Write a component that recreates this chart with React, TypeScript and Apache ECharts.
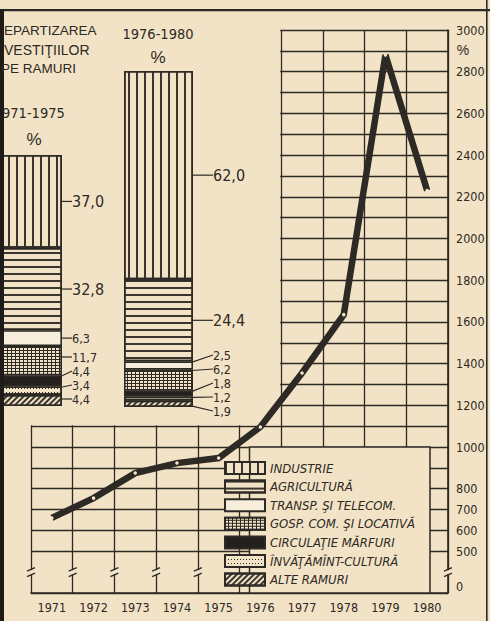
import React, { useEffect, useRef } from 'react';
import * as echarts from 'echarts';

// ---------- data ----------
const years = ['1971', '1972', '1973', '1974', '1975', '1976', '1977', '1978', '1979', '1980'];
const growthIndex = [660, 755, 875, 923, 947, 1096, 1355, 1635, 2880, 2230];
const yTickLabels = [0, 500, 600, 700, 800, 1000, 1200, 1400, 1600, 1800, 2000, 2200, 2400, 2600, 2800, 3000];
const AXIS_FLOOR = 300; // broken axis: the floor of the drawn scale stands for 0
const AXIS_TOP = 3000;

const branches = [
  'INDUSTRIE',
  'AGRICULTURĂ',
  'TRANSP. ŞI TELECOM.',
  'GOSP. COM. ŞI LOCATIVĂ',
  'CIRCULAŢIE MĂRFURI',
  'ÎNVĂŢĂMÎNT-CULTURĂ',
  'ALTE RAMURI',
];
const periods = ['1971-1975', '1976-1980'];
const share7175 = [37.0, 32.8, 6.3, 11.7, 4.4, 3.4, 4.4];
const share7680 = [62.0, 24.4, 2.5, 6.2, 1.8, 1.2, 1.9];

const titleLines = ['EPARTIZAREA', 'VESTIŢIILOR', 'PE RAMURI'];
const periodHeads = ['971-1975', '1976-1980'];

// ---------- styles ----------
const INK = '#2d2925';
const PAPER = '#f3e3c6';
const NARROW = "'Liberation Sans Narrow', 'DejaVu Sans Condensed', 'Liberation Sans', sans-serif";
const PLAIN = "'Liberation Sans', 'DejaVu Sans', sans-serif";

const dec = (o: any) => ({ symbol: 'rect', symbolSize: 1, symbolKeepAspect: false, ...o });
const branchLook: any[] = [
  { color: PAPER, decal: dec({ color: '#3b352f', dashArrayX: [2, 6], dashArrayY: [1, 0] }) },
  { color: PAPER, decal: dec({ color: '#3b352f', dashArrayX: [1, 0], dashArrayY: [2, 5] }) },
  { color: '#f7eddb', decal: null },
  { color: INK, decal: dec({ color: PAPER, dashArrayX: [3, 1], dashArrayY: [2, 1] }) },
  { color: '#24201d', decal: null },
  { color: PAPER, decal: dec({ color: INK, dashArrayX: [1, 2], dashArrayY: [1, 3] }) },
  { color: PAPER, decal: dec({ color: '#3b352f', dashArrayX: [1, 0], dashArrayY: [2, 2], rotation: -Math.PI / 4 }) },
];

const BAR_BOXES = [
  { left: -7, top: 155, width: 69, height: 251, gap: 10, lead: 8, maxY: 399 },
  { left: 124, top: 71, width: 69, height: 336, gap: 20, lead: 16, maxY: 411 },
];
const shares = [share7175, share7680];
const LABEL_GAP = 14;

function segMids(vals: number[], box: any) {
  let cum = 0;
  return vals.map((v) => {
    const m = box.top + ((cum + v / 2) / 100) * box.height;
    cum += v;
    return m;
  });
}
function spread(ys: number[], gap: number, maxY: number) {
  const out = ys.slice();
  for (let it = 0; it < 400; it++) {
    let moved = false;
    for (let i = 0; i < out.length - 1; i++) {
      const d = out[i + 1] - out[i];
      if (d < gap - 0.01) {
        const s = (gap - d) / 2;
        out[i] -= s;
        out[i + 1] += s;
        moved = true;
      }
    }
    if (!moved) break;
  }
  const n = out.length;
  out[n - 1] = Math.min(out[n - 1], maxY);
  for (let i = n - 2; i >= 0; i--) out[i] = Math.min(out[i], out[i + 1] - gap);
  return out;
}
const mids = shares.map((s, g) => segMids(s, BAR_BOXES[g]));
const labelYs = mids.map((m, g) => spread(m, LABEL_GAP, BAR_BOXES[g].maxY));

const fmt = (v: number) => v.toFixed(1).replace('.', ',');

function buildOption(): any {
  const barSeries: any[] = [];
  shares.forEach((vals, g) => {
    const box = BAR_BOXES[g];
    const right = box.left + box.width;
    vals.forEach((v, i) => {
      const big = i < 2;
      barSeries.push({
        type: 'bar',
        name: branches[i],
        xAxisIndex: g + 1,
        yAxisIndex: g + 1,
        stack: 'p' + g,
        barWidth: '100%',
        data: [v],
        silent: true,
        itemStyle: {
          color: branchLook[i].color,
          decal: branchLook[i].decal || undefined,
          borderColor: INK,
          borderWidth: 1.6,
        },
        label: {
          show: true,
          position: 'right',
          formatter: (p: any) => fmt(p.value),
          color: INK,
          fontFamily: NARROW,
          fontSize: big ? 16 : 12.5,
          lineHeight: big ? 16 : 13,
        },
        labelLine: { show: true, lineStyle: { color: INK, width: 1.2 } },
        labelLayout: () => ({
          x: right + box.gap,
          y: labelYs[g][i],
          align: 'left',
          verticalAlign: 'middle',
          labelLinePoints: [
            [right, mids[g][i]],
            [right + box.lead, labelYs[g][i]],
          ],
        }),
      });
    });
  });

  const ticksCount = (AXIS_TOP - AXIS_FLOOR) / 100 + 1;
  const splitColors = Array.from({ length: ticksCount }, (_, k) => (k === 1 ? 'rgba(0,0,0,0)' : INK));

  return {
    animation: false,
    backgroundColor: PAPER,
    grid: [
      { left: 31, right: 42, top: 30, bottom: 28 },
      { left: BAR_BOXES[0].left, top: BAR_BOXES[0].top, width: BAR_BOXES[0].width, height: BAR_BOXES[0].height },
      { left: BAR_BOXES[1].left, top: BAR_BOXES[1].top, width: BAR_BOXES[1].width, height: BAR_BOXES[1].height },
    ],
    xAxis: [
      {
        type: 'category',
        gridIndex: 0,
        data: years,
        boundaryGap: true,
        axisLine: { show: true, lineStyle: { color: INK, width: 1.6 } },
        axisTick: { show: false },
        axisLabel: { interval: 0, color: INK, fontFamily: NARROW, fontSize: 12.5, margin: 8 },
        splitLine: { show: true, interval: 0, lineStyle: { color: INK, width: 1.3 } },
      },
      { type: 'category', gridIndex: 1, data: [periods[0]], show: false },
      { type: 'category', gridIndex: 2, data: [periods[1]], show: false },
    ],
    yAxis: [
      {
        type: 'value',
        gridIndex: 0,
        position: 'right',
        min: AXIS_FLOOR,
        max: AXIS_TOP,
        interval: 100,
        axisLine: { show: true, lineStyle: { color: INK, width: 1.6 } },
        axisTick: { show: false },
        axisLabel: {
          color: INK,
          fontFamily: NARROW,
          fontSize: 12.5,
          margin: 8,
          showMinLabel: true,
          showMaxLabel: true,
          formatter: (v: number) => {
            if (v === AXIS_FLOOR) return '{z|' + yTickLabels[0] + '}';
            return yTickLabels.indexOf(v) > 0 ? String(v) : '';
          },
          rich: { z: { padding: [0, 0, 14, 0], fontFamily: NARROW, fontSize: 12.5, color: INK } },
        },
        splitLine: { show: true, lineStyle: { color: splitColors, width: 1.3 } },
      },
      { type: 'value', gridIndex: 1, min: 0, max: 100, inverse: true, show: false },
      { type: 'value', gridIndex: 2, min: 0, max: 100, inverse: true, show: false },
    ],
    legend: {
      data: branches,
      orient: 'vertical',
      left: 219,
      top: 456,
      itemWidth: 40,
      itemHeight: 12,
      itemGap: 4.6,
      icon: 'rect',
      selectedMode: false,
      z: 6,
      textStyle: { color: INK, fontStyle: 'italic', fontFamily: NARROW, fontSize: 13, lineHeight: 12 },
    },
    series: [
      {
        type: 'line',
        name: 'INVESTIŢII',
        xAxisIndex: 0,
        yAxisIndex: 0,
        data: growthIndex,
        z: 5,
        silent: true,
        lineStyle: { color: INK, width: 6.5, join: 'miter', cap: 'butt' },
        symbol: 'circle',
        symbolSize: 3.5,
        itemStyle: { color: PAPER, borderWidth: 0 },
      },
      ...barSeries,
    ],
  };
}

export default function App() {
  const ref = useRef<HTMLDivElement>(null);
  useEffect(() => {
    document.body.style.margin = '0';
    const chart = echarts.init(ref.current as HTMLDivElement, null, { renderer: 'svg' });
    chart.setOption(buildOption());

    const px = (v: string) => chart.convertToPixel({ xAxisIndex: 0 }, v) as number;
    const py = (v: number) => chart.convertToPixel({ yAxisIndex: 0 }, v) as number;
    const c0 = px(years[0]);
    const band = px(years[1]) - c0;
    const boundary = (k: number) => c0 - band / 2 + k * band;
    const yTop = py(AXIS_TOP);
    const y1100 = py(1100);
    const y1000 = py(1000);
    const yFloor = py(AXIS_FLOOR);
    const yBreak = py(400);
    const maskRight = boundary(6) - 1;
    const xRight = boundary(10);
    const boxLeft = boundary(5) + 10;

    const breaks: any[] = [];
    [0, 1, 2, 3, 4, 10].forEach((k) => {
      const x = boundary(k);
      breaks.push({ type: 'rect', z: 2, silent: true, shape: { x: x - 4, y: yBreak - 2, width: 8, height: 4 }, style: { fill: PAPER } });
      breaks.push({ type: 'line', z: 2, silent: true, shape: { x1: x - 4, y1: yBreak - 1, x2: x + 4, y2: yBreak - 4.5 }, style: { stroke: INK, lineWidth: 1.3 } });
      breaks.push({ type: 'line', z: 2, silent: true, shape: { x1: x - 4, y1: yBreak + 4.5, x2: x + 4, y2: yBreak + 1 }, style: { stroke: INK, lineWidth: 1.3 } });
    });

    const txt = (text: string, x: number, y: number, size: number, align: string, font = PLAIN) => ({
      type: 'text',
      z: 10,
      silent: true,
      x,
      y,
      style: { text, fill: INK, fontSize: size, fontFamily: font, align, verticalAlign: 'middle' },
    });

    chart.setOption({
      graphic: [
        // area of the grid hidden behind the columns
        { type: 'rect', z: 1, silent: true, shape: { x: 4, y: 11, width: maskRight - 4, height: y1100 - 1 - 11 }, style: { fill: PAPER } },
        // legend frame
        { type: 'rect', z: 1, silent: true, shape: { x: boxLeft, y: y1000, width: xRight - 18 - boxLeft, height: yFloor - y1000 }, style: { fill: PAPER, stroke: INK, lineWidth: 1.5 } },
        ...breaks,
        // page edges of the scan
        { type: 'rect', z: 10, silent: true, shape: { x: 0, y: 9, width: 490, height: 2.2 }, style: { fill: INK } },
        { type: 'rect', z: 10, silent: true, shape: { x: 0, y: 9, width: 4, height: 612 }, style: { fill: '#1f1b18' } },
        { type: 'rect', z: 10, silent: true, shape: { x: 486, y: 0, width: 1.6, height: 621 }, style: { fill: INK } },
        // titles
        txt(titleLines[0], 4, 30, 13.5, 'left'),
        txt(titleLines[1], 4, 50, 14, 'left'),
        txt(titleLines[2], 1, 68, 13.5, 'left'),
        txt(periodHeads[0], 2, 113, 14.5, 'left', NARROW),
        txt('%', 34, 139, 17, 'center'),
        txt(periodHeads[1], 158, 34, 14.5, 'center', NARROW),
        txt('%', 158, 57, 17, 'center'),
        txt('%', 463, yTop + 20, 14, 'center'),
      ],
    });

    return () => chart.dispose();
  }, []);
  return <div ref={ref} style={{ position: 'fixed', left: 0, top: 0, width: 490, height: 621 }} />;
}
